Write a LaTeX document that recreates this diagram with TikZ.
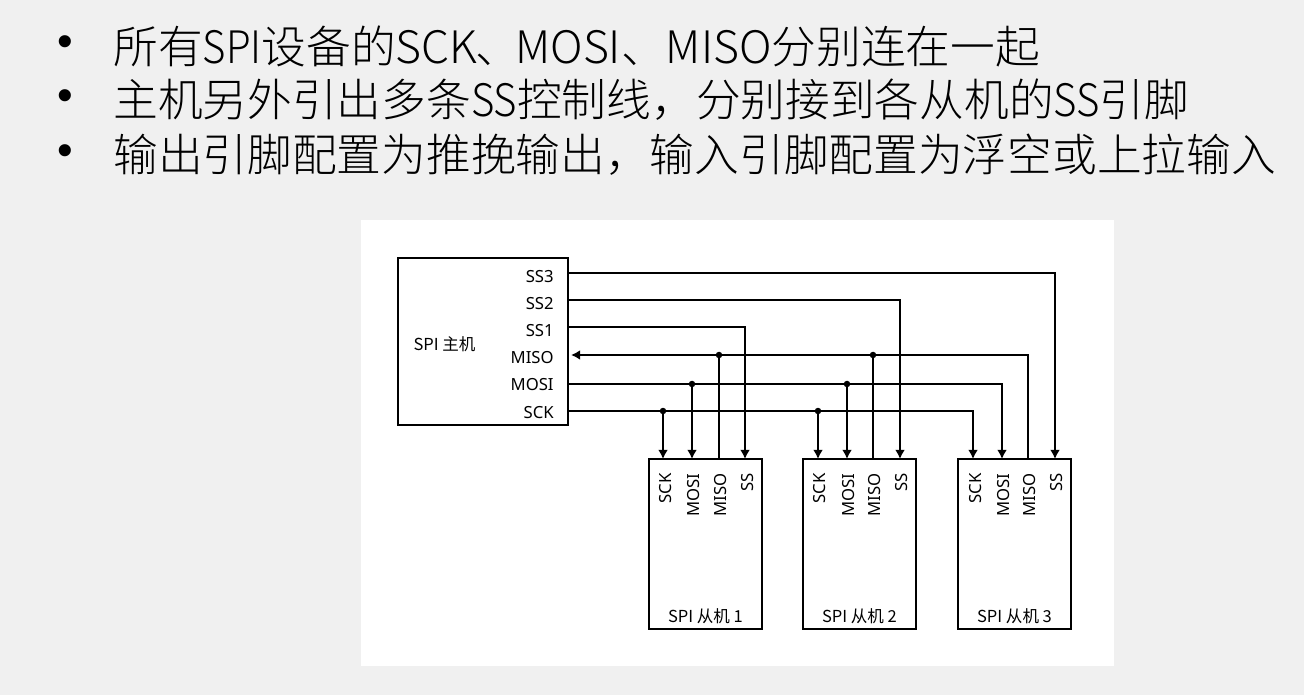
\documentclass[tikz,border=0pt]{standalone}
\usepackage{xcolor}
\usepackage{fontspec}
\usepackage{tikz}
\usetikzlibrary{shapes,arrows,arrows.meta,positioning,calc}
\setmainfont{Noto Sans CJK SC Light}
\newfontfamily\lblfont{Noto Sans CJK SC}
\newfontfamily\latinfont{Noto Sans}
\newfontfamily\narrowfont[FakeStretch=0.9]{Noto Sans CJK SC Light}
\newfontfamily\bulletfont{Liberation Sans}
\newcommand{\nar}[1]{{\narrowfont #1}}
\definecolor{pagegray}{RGB}{240,240,240}

\begin{document}
\begin{tikzpicture}[x=0.02cm, y=-0.02cm,
        box/.style={rectangle, draw=black, line width=1pt, fill=white},
        masterbox/.style={box, minimum width=3.4cm, minimum height=3.34cm},
        slavebox/.style={box, minimum width=2.26cm, minimum height=3.4cm},
        arrow/.style={-{Latex[length=5.2pt,width=5.6pt]}, line width=1pt},
        wire/.style={line width=1pt},
        dot/.style={circle, fill=black, inner sep=0pt, minimum size=0.13cm},
        lbl/.style={font=\latinfont\fontsize{9.5pt}{11pt}\selectfont, inner sep=0pt},
        pin/.style={lbl, anchor=east},
        slavepin/.style={lbl, anchor=east, rotate=90},
        namelbl/.style={font=\fontsize{9.4pt}{11pt}\selectfont\lblfont, inner sep=0pt},
        bullet/.style={font=\bulletfont\fontsize{25.4pt}{30pt}\selectfont, inner sep=0pt},
        txt/.style={font=\fontsize{25.45pt}{30pt}\selectfont, inner sep=0pt, anchor=west}]

        % Page and panel
        \useasboundingbox (0,0) rectangle (1304,695);
        \fill[pagegray] (0,0) rectangle (1304,695);
        \fill[white] (361,220) rectangle (1114,666);

        % Bullet lines
        \node[bullet] (bulleta) at (65,46) {•};
        \node[bullet] (bulletb) at (65,100) {•};
        \node[bullet] (bulletc) at (65,155) {•};
        \node[txt] (linea) at (113,46) {所有\nar{SPI}设备的SCK\hspace{-1pt}、\hspace{-3pt}MOSI、MISO分别连在一起};
        \node[txt] (lineb) at (113,100) {主机另外引出多条\nar{SS}控制线，分别接到各从机的\nar{SS}引脚};
        \node[txt] (linec) at (113,155) {输出引脚配置为推挽输出，输入引脚配置为浮空或上拉输入};

        % Master node
        \node[masterbox] (master) at (483,341.5) {};
        \node[namelbl] (mastername) at (444.5,344) {SPI 主机};
        \node[pin] (mssc) at (554,277) {SS3};
        \node[pin] (mssb) at (554,304) {SS2};
        \node[pin] (mssa) at (554,331) {SS1};
        \node[pin] (mmiso) at (554,358) {MISO};
        \node[pin] (mmosi) at (554,385) {MOSI};
        \node[pin] (msck) at (554,413) {SCK};

        % Line heights on the master's edge
        \coordinate (ossc) at (568,273);
        \coordinate (ossb) at (568,300);
        \coordinate (ossa) at (568,327);
        \coordinate (omiso) at (568,355);
        \coordinate (omosi) at (568,384);
        \coordinate (osck) at (568,411);

        % Slave nodes
        \node[slavebox] (slavea) at (705.5,544) {};
        \node[slavebox] (slaveb) at (859.5,544) {};
        \node[slavebox] (slavec) at (1014.5,544) {};
        \node[namelbl, above=3pt of slavea.south] (nameslavea) {SPI 从机 1};
        \node[namelbl, above=3pt of slaveb.south] (nameslaveb) {SPI 从机 2};
        \node[namelbl, above=3pt of slavec.south] (nameslavec) {SPI 从机 3};

        % Slave pins
        \node[slavepin] (asck) at (666,473) {SCK};
        \node[slavepin] (amosi) at (694,473) {MOSI};
        \node[slavepin] (amiso) at (721,473) {MISO};
        \node[slavepin] (ass) at (748,473) {SS};
        \node[slavepin] (bsck) at (820,473) {SCK};
        \node[slavepin] (bmosi) at (849,473) {MOSI};
        \node[slavepin] (bmiso) at (875,473) {MISO};
        \node[slavepin] (bss) at (902,473) {SS};
        \node[slavepin] (csck) at (976,473) {SCK};
        \node[slavepin] (cmosi) at (1004,473) {MOSI};
        \node[slavepin] (cmiso) at (1030,473) {MISO};
        \node[slavepin] (css) at (1057,473) {SS};

        % Entry points on top of the slaves
        \coordinate (tasck) at (663,459);
        \coordinate (tamosi) at (692,459);
        \coordinate (tamiso) at (719,459);
        \coordinate (tass) at (745,459);
        \coordinate (tbsck) at (818,459);
        \coordinate (tbmosi) at (847,459);
        \coordinate (tbmiso) at (873,459);
        \coordinate (tbss) at (900,459);
        \coordinate (tcsck) at (973,459);
        \coordinate (tcmosi) at (1002,459);
        \coordinate (tcmiso) at (1028,459);
        \coordinate (tcss) at (1055,459);

        % Junction dots
        \node[dot] (jasck) at (tasck |- osck) {};
        \node[dot] (jamosi) at (tamosi |- omosi) {};
        \node[dot] (jamiso) at (tamiso |- omiso) {};
        \node[dot] (jbsck) at (tbsck |- osck) {};
        \node[dot] (jbmosi) at (tbmosi |- omosi) {};
        \node[dot] (jbmiso) at (tbmiso |- omiso) {};

        % SS lines
        \draw[arrow] (ossa) -| (tass);
        \draw[arrow] (ossb) -| (tbss);
        \draw[arrow] (ossc) -| (tcss);

        % Shared lines
        \draw[arrow] (osck) -| (tcsck);
        \draw[arrow] (omosi) -| (tcmosi);
        \draw[arrow, shorten >=0.06cm] (tcmiso) |- (omiso);

        % Branches to the slaves
        \draw[arrow] (jasck.center) -- (tasck);
        \draw[arrow] (jamosi.center) -- (tamosi);
        \draw[wire] (tamiso) -- (jamiso.center);
        \draw[arrow] (jbsck.center) -- (tbsck);
        \draw[arrow] (jbmosi.center) -- (tbmosi);
        \draw[wire] (tbmiso) -- (jbmiso.center);

    \end{tikzpicture}
\end{document}
